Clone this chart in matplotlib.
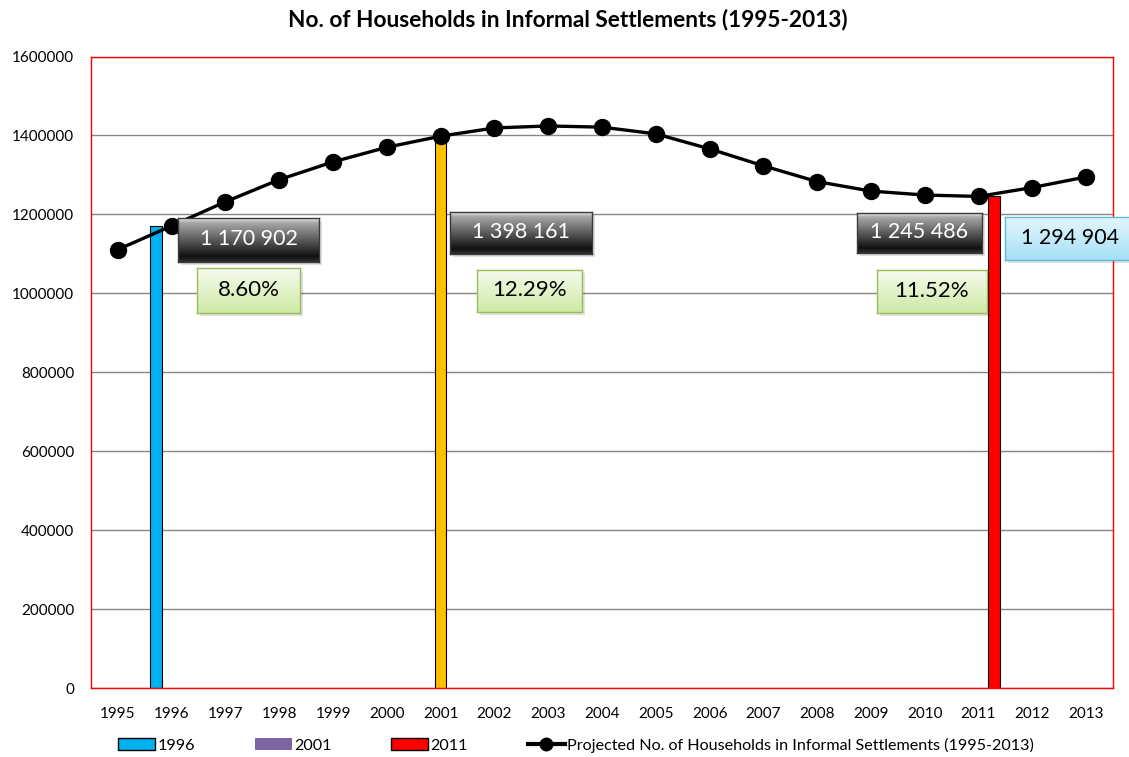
import numpy as np
import matplotlib.pyplot as plt
from matplotlib.patches import Patch
from matplotlib.lines import Line2D
from matplotlib.colors import LinearSegmentedColormap
from matplotlib.ticker import StrMethodFormatter

plt.rcParams['font.family'] = ['Lato', 'DejaVu Sans']

# data
years = [str(y) for y in range(1995, 2014)]
projected = [1111000, 1170902, 1232000, 1288000, 1333000, 1370000, 1398161,
             1419000, 1424000, 1421000, 1404000, 1366000, 1323000, 1283000,
             1259000, 1249000, 1245486, 1268000, 1294904]
census_years = ["1996", "2001", "2011"]
census_values = [1170902, 1398161, 1245486]
census_labels = ["1 170 902", "1 398 161", "1 245 486"]
growth_labels = ["8.60%", "12.29%", "11.52%"]
last_label = "1 294 904"
bar_colors = ["#00B0F0", "#FFC000", "#FF0000"]
legend_colors = ["#00B0F0", "#8064A2", "#FF0000"]

W, H = 1129, 757
fig = plt.figure(figsize=(W / 100, H / 100), dpi=100)
ax = fig.add_axes([91 / W, 1 - 688 / H, (1113 - 91) / W, (688 - 56.5) / H])

x = np.arange(len(years))
offsets = [-0.29, 0.0, 0.29]
for i, yr in enumerate(census_years):
    ax.bar(years.index(yr) + offsets[i], census_values[i], width=0.21,
           color=bar_colors[i], edgecolor="black", linewidth=0.8, zorder=2)

ax.plot(x, projected, color="black", lw=2.4, marker="o", markersize=11.5, zorder=3)

ax.set_xlim(-0.5, len(years) - 0.5)
ax.set_ylim(0, 1600000)
ax.set_xticks(x)
ax.set_xticklabels(years)
ax.set_yticks(range(0, 1600001, 200000))
ax.yaxis.set_major_formatter(StrMethodFormatter("{x:.0f}"))
ax.yaxis.grid(True, color="#868686", lw=1)
ax.set_axisbelow(True)
for s in ax.spines.values():
    s.set_color("red")
    s.set_linewidth(1)
ax.tick_params(length=0, labelsize=11)
ax.tick_params(axis="x", pad=14)
ax.tick_params(axis="y", pad=12)

fig.suptitle("No. of Households in Informal Settlements (1995-2013)",
             x=568 / W, y=1 - 20 / H, va="center", fontsize=16.3, fontweight="bold")

# legend
handles = [Patch(facecolor=legend_colors[0], edgecolor="black"),
           Patch(facecolor=legend_colors[1], edgecolor="none"),
           Patch(facecolor=legend_colors[2], edgecolor="black"),
           Line2D([], [], color="black", lw=3, marker="o", markersize=9)]
names = census_years + ["Projected No. of Households in Informal Settlements (1995-2013)"]
fig.legend(handles, names, loc="center", bbox_to_anchor=(576 / W, 1 - 745 / H),
           ncol=4, frameon=False, fontsize=11.6, handlelength=2.3,
           handletextpad=0.15, columnspacing=3.7)


def label_box(box, text, stops, edge, color, size):
    x0, y0, x1, y1 = box
    sh = fig.add_axes([(x0 + 3) / W, 1 - (y1 + 3) / H, (x1 - x0) / W, (y1 - y0) / H])
    sh.set_facecolor("#000000")
    sh.patch.set_alpha(0.12)
    sh.set_xticks([])
    sh.set_yticks([])
    for s in sh.spines.values():
        s.set_visible(False)
    bax = fig.add_axes([x0 / W, 1 - y1 / H, (x1 - x0) / W, (y1 - y0) / H])
    cmap = LinearSegmentedColormap.from_list("g", stops)
    grad = np.linspace(0, 1, 100).reshape(-1, 1)
    bax.imshow(grad, aspect="auto", cmap=cmap, extent=[0, 1, 0, 1], origin="upper")
    bax.set_xlim(0, 1)
    bax.set_ylim(0, 1)
    bax.set_xticks([])
    bax.set_yticks([])
    for s in bax.spines.values():
        s.set_color(edge)
        s.set_linewidth(1)
    bax.text(0.5, 0.52, text, ha="center", va="center", color=color, fontsize=size)


dark = [(0.0, "#e8e8e8"), (0.1, "#a8a8a8"), (0.45, "#646464"), (0.88, "#101010"), (1.0, "#303030")]
green = [(0.0, "#f6fbee"), (1.0, "#cdeaa5")]
blue = [(0.0, "#e4f6fd"), (1.0, "#a6e0f6")]

dark_boxes = [(178, 218, 319, 262), (450, 212, 592, 254), (857, 213, 982, 253)]
green_boxes = [(197, 268, 300, 313), (477, 270, 582, 312), (877, 270, 987, 313)]
for i in range(3):
    label_box(dark_boxes[i], census_labels[i], dark, "#3a3a3a", "white", 15.5)
    label_box(green_boxes[i], growth_labels[i], green, "#9bbb59", "black", 16)
label_box((1005, 217, 1135, 260), last_label, blue, "#5ab8d8", "black", 15.5)

fig.savefig("out.png", dpi=100)
